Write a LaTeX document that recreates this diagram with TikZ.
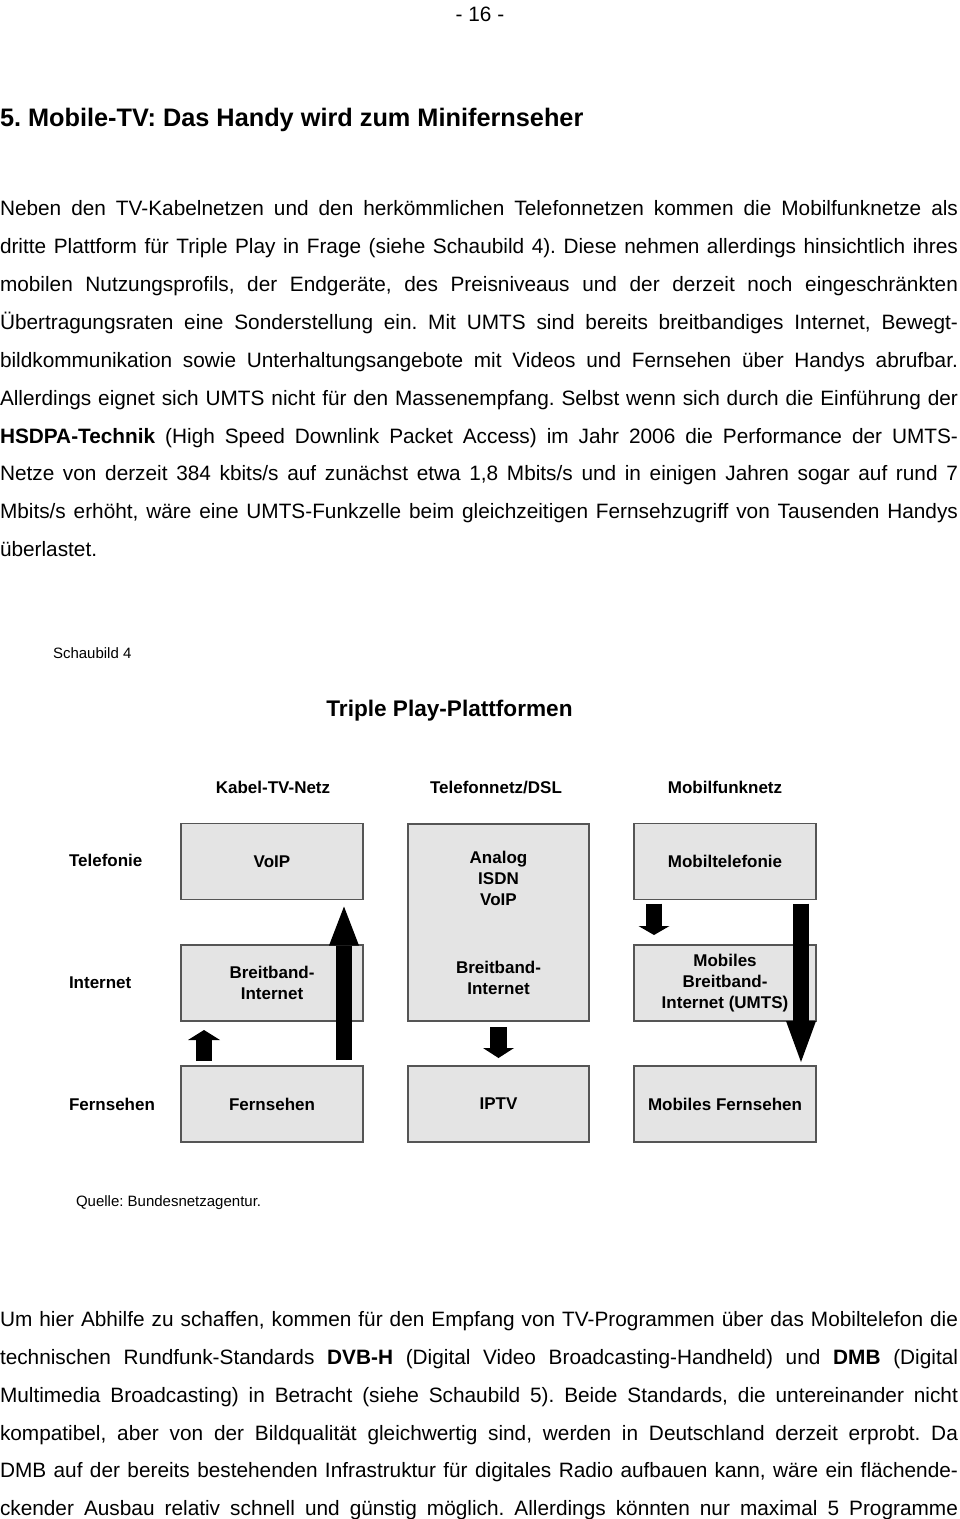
\documentclass[tikz,border=0pt]{standalone}
\usepackage{fontspec}
\setmainfont{Liberation Sans}
\usetikzlibrary{arrows.meta}
\definecolor{boxgray}{RGB}{228,228,228}
\definecolor{rimgray}{RGB}{85,85,85}
\frenchspacing

\begin{document}
\begin{tikzpicture}[x=1pt,y=-1pt,
  every node/.style={inner sep=0pt, outer sep=0pt},
  txt/.style={anchor=mid west, yshift=-4pt, font=\fontsize{20.8}{25}\selectfont},
  small/.style={anchor=mid west, yshift=-4pt, font=\fontsize{15}{18}\selectfont},
  lbl/.style={font=\bfseries\fontsize{17}{21}\selectfont, align=center},
  box/.style={lbl, draw=rimgray, fill=boxgray, line width=1.2pt,
    minimum width=182pt, minimum height=76pt},
  blk/.style={black, line width=16pt}]
  \useasboundingbox (0,0) rectangle (960,1519);

  % page head
  \node[font=\fontsize{20.8}{25}\selectfont] (page) at (480,14) {- 16 -};
  \node[anchor=mid west, font=\bfseries\fontsize{25.3}{30}\selectfont] (head) at (0,124)
    {5. Mobile-TV: Das Handy wird zum Minifernseher};

  % first paragraph
  \foreach \l [count=\i from 0] in {
    {Neben den TV-Kabelnetzen und den herkömmlichen Telefonnetzen kommen die Mobilfunknetze als},
    {dritte Plattform für Triple Play in Frage (siehe Schaubild 4). Diese nehmen allerdings hinsichtlich ihres},
    {mobilen Nutzungsprofils, der Endgeräte, des Preisniveaus und der derzeit noch eingeschränkten},
    {Übertragungsraten eine Sonderstellung ein. Mit UMTS sind bereits breitbandiges Internet, Bewegt-},
    {bildkommunikation sowie Unterhaltungsangebote mit Videos und Fernsehen über Handys abrufbar.},
    {Allerdings eignet sich UMTS nicht für den Massenempfang. Selbst wenn sich durch die Einführung der},
    {\textbf{HSDPA-Technik} (High Speed Downlink Packet Access) im Jahr 2006 die Performance der UMTS-},
    {Netze von derzeit 384 kbits/s auf zunächst etwa 1,8 Mbits/s und in einigen Jahren sogar auf rund 7},
    {Mbits/s erhöht, wäre eine UMTS-Funkzelle beim gleichzeitigen Fernsehzugriff von Tausenden Handys}}
    \node[txt] (pa\i) at (0,{209+37.9*\i}) {\makebox[958pt][s]{\l}};
  \node[txt] (pa9) at (0,550) {überlastet.};

  % Schaubild 4
  \node[small] (fig) at (53,652) {Schaubild 4};
  \node[font=\bfseries\fontsize{22.6}{27}\selectfont] (title) at (449.5,711) {Triple Play-Plattformen};

  \node[lbl] (hcab) at (273,787) {Kabel-TV-Netz};
  \node[lbl] (htel) at (496,787) {Telefonnetz/DSL};
  \node[lbl] (hmob) at (725,787) {Mobilfunknetz};

  \node[lbl, anchor=west] (rtel) at (69,860) {Telefonie};
  \node[lbl, anchor=west] (rint) at (69,983) {Internet};
  \node[lbl, anchor=west] (rfern) at (69,1104) {Fernsehen};

  \node[box] (voip) at (272,861.5) {VoIP};
  \node[box] (int1) at (272,983) {Breitband-\\Internet};
  \node[box] (fern1) at (272,1104) {Fernsehen};
  \node[box, minimum width=181pt, minimum height=197pt] (dsl) at (498.5,922.5)
    {Analog\\ISDN\\VoIP\\[47pt]Breitband-\\Internet};
  \node[box, minimum width=181pt] (iptv) at (498.5,1104) {IPTV};
  \node[box] (mob) at (725,861.5) {Mobiltelefonie};
  \node[box] (mint) at (725,983) {Mobiles\\Breitband-\\Internet (UMTS)};
  \node[box] (mtv) at (725,1104) {Mobiles Fernsehen};

  % block arrows
  \draw[blk, -{Triangle[width=32pt, length=10pt, line width=0pt]}]
    ([xshift=-68pt, yshift=5pt]fern1.north) -- ([xshift=-68pt, yshift=-9pt]int1.south);
  \draw[blk, -{Triangle[width=30pt, length=39pt, line width=0pt]}]
    ([xshift=72pt, yshift=6pt]fern1.north) -- ([xshift=72pt, yshift=-7pt]voip.south);
  \draw[blk, line width=17pt, -{Triangle[width=31pt, length=10pt, line width=0pt]}]
    ([yshift=-6pt]dsl.south) -- ([yshift=8pt]iptv.north);
  \draw[blk, -{Triangle[width=31pt, length=9pt, line width=0pt]}]
    ([xshift=-71pt, yshift=-4pt]mob.south) -- ([xshift=-71pt, yshift=10pt]mint.north);
  \draw[blk, -{Triangle[width=30pt, length=41pt, line width=0pt]}]
    ([xshift=76pt, yshift=-4pt]mob.south) -- ([xshift=76pt, yshift=4pt]mtv.north);

  \node[small] (src) at (76,1200) {Quelle: Bundesnetzagentur.};

  % second paragraph
  \foreach \l [count=\i from 0] in {
    {Um hier Abhilfe zu schaffen, kommen für den Empfang von TV-Programmen über das Mobiltelefon die},
    {technischen Rundfunk-Standards \textbf{DVB-H} (Digital Video Broadcasting-Handheld) und \textbf{DMB} (Digital},
    {Multimedia Broadcasting) in Betracht (siehe Schaubild 5). Beide Standards, die untereinander nicht},
    {kompatibel, aber von der Bildqualität gleichwertig sind, werden in Deutschland derzeit erprobt. Da},
    {DMB auf der bereits bestehenden Infrastruktur für digitales Radio aufbauen kann, wäre ein flächende-},
    {ckender Ausbau relativ schnell und günstig möglich. Allerdings könnten nur maximal 5 Programme}}
    \node[txt] (pb\i) at (0,{1320+37.8*\i}) {\makebox[958pt][s]{\l}};
\end{tikzpicture}
\end{document}
